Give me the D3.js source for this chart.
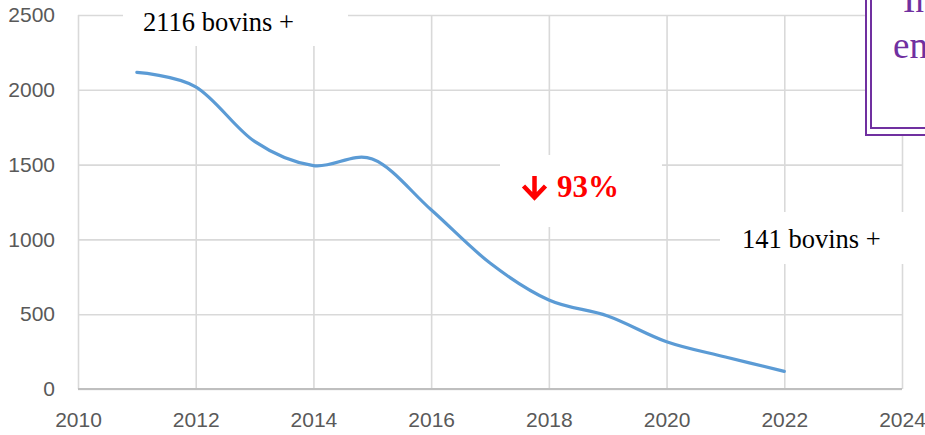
<!DOCTYPE html>
<html><head><meta charset="utf-8">
<script src="https://cdn.jsdelivr.net/npm/d3@7"></script>
<style>
html,body{margin:0;padding:0;background:#fff;}
svg{display:block;}
</style></head>
<body>
<svg id="c" width="925" height="435"></svg>
<script>
const years = [2011, 2012, 2013, 2014, 2015, 2016, 2017, 2018, 2019, 2020, 2021, 2022];
const cattle = [2116, 2020, 1655, 1493, 1537, 1198, 842, 595, 488, 316, 214, 118];
const xTicks = [2010, 2012, 2014, 2016, 2018, 2020, 2022, 2024];
const yTicks = [0, 500, 1000, 1500, 2000, 2500];
const startLabel = "2116 bovins +";
const endLabel = "141 bovins +";
const dropLabel = "93%";
const boxLines = ["In", "en"];

const svg = d3.select("#c");
const x = d3.scaleLinear().domain([2010, 2024]).range([78, 902]);
const y = d3.scaleLinear().domain([0, 2500]).range([389, 15]);
const grid = "#d9d9d9";
const axisFont = "'Liberation Sans', Arial, sans-serif";

// horizontal gridlines
const gy = svg.append("g").attr("transform", `translate(${x(2010)},0)`)
  .call(d3.axisLeft(y).tickValues(yTicks).tickSize(-(x(2024) - x(2010))).tickFormat(d3.format("d")).tickPadding(23));
gy.select(".domain").remove();
gy.selectAll(".tick line").attr("stroke", grid).attr("stroke-width", 1.6);
gy.selectAll(".tick text").attr("fill", "#595959").style("font-family", axisFont).style("font-size", "21px");

// vertical gridlines
const gx = svg.append("g").attr("transform", `translate(0,${y(0)})`)
  .call(d3.axisBottom(x).tickValues(xTicks).tickSize(-(y(0) - y(2500))).tickFormat(d3.format("d")).tickPadding(23));
gx.select(".domain").remove();
gx.selectAll(".tick line").attr("stroke", grid).attr("stroke-width", 1.6);
gx.selectAll(".tick text").attr("fill", "#595959").style("font-family", axisFont).style("font-size", "21px");

// bottom axis line on top
svg.append("line").attr("x1", x(2010)).attr("x2", x(2024)).attr("y1", y(0)).attr("y2", y(0))
  .attr("stroke", "#bfbfbf").attr("stroke-width", 2);

// the line
const line = d3.line().x((d, i) => x(years[i])).y(d => y(d)).curve(d3.curveCardinal.tension(0));
svg.append("path").datum(cattle).attr("d", line)
  .attr("fill", "none").attr("stroke", "#5b9bd5").attr("stroke-width", 3.2)
  .attr("stroke-linecap", "round").attr("stroke-linejoin", "round");

// label boxes
const serif = "'Liberation Serif', 'Times New Roman', serif";
svg.append("rect").attr("x", 123).attr("y", 0).attr("width", 225).attr("height", 46).attr("fill", "#fff");
svg.append("text").attr("x", 143).attr("y", 31).text(startLabel)
  .style("font-family", serif).style("font-size", "26.5px").attr("fill", "#000");

svg.append("rect").attr("x", 720).attr("y", 212).attr("width", 190).attr("height", 52).attr("fill", "#fff");
svg.append("text").attr("x", 742).attr("y", 248).text(endLabel)
  .style("font-family", serif).style("font-size", "26.5px").attr("fill", "#000");

svg.append("rect").attr("x", 500).attr("y", 155).attr("width", 162).attr("height", 72).attr("fill", "#fff");
// down arrow (symbol)
const ax = 534.5;
svg.append("path")
  .attr("d", `M${ax},176 L${ax},196 M${ax - 11},186 L${ax},197.5 L${ax + 11},186`)
  .attr("fill", "none").attr("stroke", "#ff0000").attr("stroke-width", 4.5).attr("stroke-linejoin", "miter");
svg.append("text").attr("x", 557).attr("y", 197).text(dropLabel)
  .style("font-family", serif).style("font-size", "31px").style("font-weight", "bold").attr("fill", "#ff0000");

// purple framed box (cut by the edge)
svg.append("rect").attr("x", 866).attr("y", -20).attr("width", 100).attr("height", 155)
  .attr("fill", "#fff").attr("stroke", "#7030a0").attr("stroke-width", 2);
svg.append("rect").attr("x", 871).attr("y", -20).attr("width", 100).attr("height", 148)
  .attr("fill", "none").attr("stroke", "#7030a0").attr("stroke-width", 2);
svg.append("text").attr("x", 903).attr("y", 12).text(boxLines[0])
  .style("font-family", serif).style("font-size", "37px").attr("fill", "#7030a0");
svg.append("text").attr("x", 893).attr("y", 58).text(boxLines[1])
  .style("font-family", serif).style("font-size", "37px").attr("fill", "#7030a0");
</script>
</body></html>
